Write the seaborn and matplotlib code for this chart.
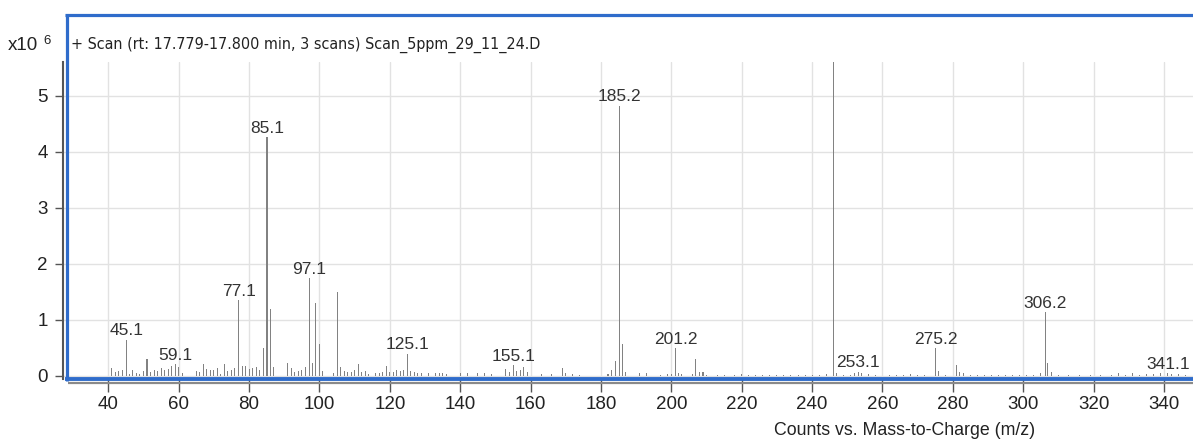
import numpy as np
import pandas as pd
import matplotlib
matplotlib.use("Agg")
import matplotlib.pyplot as plt
import seaborn as sns
from matplotlib.lines import Line2D

# ---------------- data (m/z, intensity in units of 1e6 counts) ----------------
mz = [41, 42, 43, 44, 45.1, 46, 47, 48, 49, 50, 51, 52, 53, 54, 55, 56, 57, 58, 59.1, 60, 61,
      65, 66, 67, 68, 69, 70, 71, 72, 73, 74, 75, 76, 77.1, 78, 79, 80, 81, 82, 83, 84, 85.1, 86, 87,
      91, 92, 93, 94, 95, 96, 97.1, 98, 99, 100, 101, 104, 105, 106, 107, 108, 109, 110, 111, 112, 113, 114, 116,
      117, 118, 119, 120, 121, 122, 123, 124, 125.1, 126, 127, 128, 129, 131, 133, 134, 135, 136,
      140, 142, 145, 147, 149, 153, 154, 155.1, 156, 157, 158, 159, 163, 166, 169, 170, 172, 174,
      182, 183, 184, 185.2, 186, 187, 191, 193, 197, 199, 200, 201.2, 202, 203, 206, 207, 208, 209, 210,
      213, 215, 218, 220, 222, 224, 226, 228, 230, 232, 234, 236, 238, 240, 242, 244, 246, 247, 249, 251, 252,
      253.1, 254, 256, 258,
      262, 264, 266, 268, 270, 272, 275.2, 276, 278, 281, 282, 283, 285, 287, 289, 291, 293, 295, 297, 299,
      301, 303, 305, 306.2, 307, 308, 310, 313, 316, 319, 322, 325, 327, 329, 331, 333, 335, 337, 339,
      341.1, 342, 344, 346]
intensity = [0.13, 0.07, 0.09, 0.10, 0.64, 0.03, 0.10, 0.04, 0.03, 0.08, 0.30, 0.07, 0.11, 0.08, 0.14, 0.10, 0.12, 0.17, 0.21, 0.15, 0.05,
             0.09, 0.06, 0.20, 0.12, 0.11, 0.11, 0.13, 0.03, 0.20, 0.08, 0.10, 0.13, 1.35, 0.17, 0.17, 0.12, 0.13, 0.16, 0.10, 0.49, 4.26, 1.19, 0.16,
             0.22, 0.14, 0.06, 0.09, 0.10, 0.15, 1.74, 0.22, 1.29, 0.56, 0.09, 0.05, 1.49, 0.16, 0.09, 0.07, 0.07, 0.10, 0.20, 0.06, 0.09, 0.03, 0.04,
             0.04, 0.06, 0.17, 0.07, 0.07, 0.10, 0.09, 0.10, 0.39, 0.08, 0.06, 0.05, 0.04, 0.05, 0.05, 0.04, 0.05, 0.03,
             0.04, 0.04, 0.05, 0.05, 0.03, 0.12, 0.07, 0.19, 0.09, 0.11, 0.15, 0.07, 0.03, 0.03, 0.14, 0.04, 0.03, 0.02,
             0.03, 0.11, 0.27, 4.82, 0.56, 0.06, 0.04, 0.04, 0.02, 0.03, 0.03, 0.49, 0.05, 0.03, 0.03, 0.30, 0.07, 0.06, 0.02,
             0.02, 0.02, 0.02, 0.03, 0.02, 0.02, 0.02, 0.02, 0.02, 0.02, 0.02, 0.02, 0.02, 0.02, 0.02, 0.03, 7.50, 0.04, 0.02, 0.02, 0.04,
             0.07, 0.05, 0.03, 0.02,
             0.02, 0.02, 0.02, 0.03, 0.02, 0.02, 0.49, 0.09, 0.02, 0.19, 0.07, 0.04, 0.02, 0.02, 0.02, 0.02, 0.02, 0.02, 0.02, 0.02,
             0.02, 0.02, 0.04, 1.13, 0.22, 0.07, 0.02, 0.02, 0.02, 0.02, 0.02, 0.02, 0.04, 0.02, 0.04, 0.02, 0.03, 0.03, 0.04,
             0.05, 0.03, 0.03, 0.02]
peak_labels = ["45.1", "59.1", "77.1", "85.1", "97.1", "125.1", "155.1", "185.2",
               "201.2", "253.1", "275.2", "306.2", "341.1"]
x_ticks = list(range(40, 341, 20))
y_ticks = [0, 1, 2, 3, 4, 5]
title_text = "+ Scan (rt: 17.779-17.800 min, 3 scans) Scan_5ppm_29_11_24.D"
x_label = "Counts vs. Mass-to-Charge (m/z)"

df = pd.DataFrame({"mz": mz, "intensity": intensity})

# ---------------- style ----------------
sns.set_style("white")
plt.rcParams["font.family"] = ["Liberation Sans", "DejaVu Sans"]

W, H = 1193, 440
fig = plt.figure(figsize=(W / 100, H / 100), dpi=100)


def fx(x):
    return x / W


def fy(y):
    return 1 - y / H


ax = fig.add_axes([fx(63), fy(379), fx(1193) - fx(63), fy(62) - fy(379)])
ax.set_axisbelow(True)

stick_color = "#828282"
native = np.diff(np.unique(mz)).min()
sns.barplot(data=df, x="mz", y="intensity", native_scale=True, width=0.29 / native,
            color=stick_color, saturation=1, errorbar=None, ax=ax, linewidth=0)
for p in ax.patches:
    p.set_snap(True)
    p.set_antialiased(False)

ax.set_xlim(27.13, 348.24)
ax.set_ylim(-0.059, 5.602)
ax.set_xticks(x_ticks)
ax.set_yticks(y_ticks)
ax.set_xticklabels([str(t) for t in x_ticks])
ax.set_yticklabels([str(t) for t in y_ticks])
ax.set_xlabel("")
ax.set_ylabel("")
ax.grid(True, color="#e2e2e2", lw=1)

ax.tick_params(axis="x", length=9, width=1, color="#555555", pad=3,
               labelsize=13.5, labelcolor="#222222", direction="out", bottom=True)
ax.tick_params(axis="y", length=6, width=1, color="#555555", pad=5,
               labelsize=13.5, labelcolor="#222222", direction="out", left=True)

for s in ["top", "right", "bottom"]:
    ax.spines[s].set_visible(False)
ax.spines["left"].set_color("#555555")
ax.spines["left"].set_linewidth(1.5)

# peak labels
for lab in peak_labels:
    xv = float(lab)
    yv = intensity[mz.index(xv)]
    ax.annotate(lab, (xv, yv), xytext=(0, 1), textcoords="offset points",
                ha="center", va="bottom", fontsize=12.5, color="#333333")

# ---------------- frame ----------------
blue = "#2f6ccb"
fig.add_artist(Line2D([fx(68), fx(1193)], [fy(383)] * 2, transform=fig.transFigure,
                      color="#8a8a8a", lw=1.6, solid_capstyle="butt"))
fig.add_artist(Line2D([fx(65), fx(1193)], [fy(15.5)] * 2, transform=fig.transFigure,
                      color=blue, lw=2.3, solid_capstyle="butt"))
fig.add_artist(Line2D([fx(66.5)] * 2, [fy(14), fy(380.5)], transform=fig.transFigure,
                      color=blue, lw=2.3, solid_capstyle="butt"))
fig.add_artist(Line2D([fx(65), fx(1193)], [fy(378.8)] * 2, transform=fig.transFigure,
                      color=blue, lw=2.8, solid_capstyle="butt"))

# ---------------- texts ----------------
fig.text(fx(71), fy(45), title_text, fontsize=11.5, va="center", ha="left", color="#222222",
         family=["DejaVu Sans"], fontstretch="condensed")
fig.text(fx(8), fy(46), "x10", fontsize=13.5, va="center", ha="left", color="#222222")
fig.text(fx(43), fy(41), "6", fontsize=9.5, va="center", ha="left", color="#222222")
fig.text(fx(1035), fy(430), x_label, fontsize=12.8, va="center", ha="right", color="#222222")

fig.savefig("out.png", dpi=100)
